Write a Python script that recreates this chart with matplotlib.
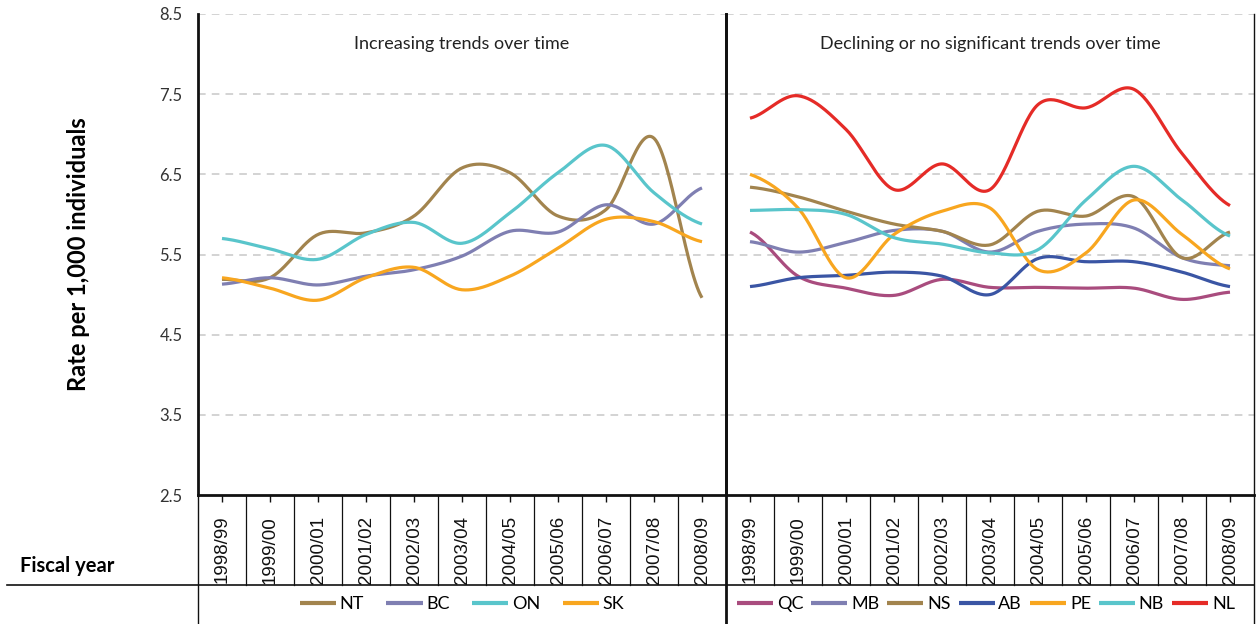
import numpy as np
import matplotlib
matplotlib.use("Agg")
import matplotlib.pyplot as plt
from matplotlib.lines import Line2D

years = ["1998/99", "1999/00", "2000/01", "2001/02", "2002/03", "2003/04",
         "2004/05", "2005/06", "2006/07", "2007/08", "2008/09"]

# Increasing trends
NT = [5.19, 5.21, 5.75, 5.77, 5.98, 6.58, 6.52, 5.98, 6.06, 6.95, 4.96]
BC = [5.13, 5.21, 5.12, 5.23, 5.31, 5.48, 5.79, 5.78, 6.12, 5.88, 6.33]
ON = [5.70, 5.57, 5.44, 5.75, 5.90, 5.64, 6.02, 6.52, 6.86, 6.27, 5.88]
SK = [5.21, 5.08, 4.93, 5.21, 5.34, 5.06, 5.23, 5.58, 5.94, 5.91, 5.66]

# Declining or no significant trends
QC = [5.78, 5.23, 5.08, 4.99, 5.19, 5.09, 5.09, 5.08, 5.08, 4.94, 5.03]
MB = [5.66, 5.53, 5.65, 5.80, 5.79, 5.53, 5.79, 5.88, 5.83, 5.46, 5.36]
NS = [6.34, 6.22, 6.04, 5.88, 5.79, 5.62, 6.04, 5.98, 6.22, 5.46, 5.78]
AB = [5.10, 5.21, 5.24, 5.28, 5.23, 5.00, 5.45, 5.41, 5.41, 5.28, 5.10]
PE = [6.50, 6.08, 5.21, 5.75, 6.04, 6.08, 5.31, 5.52, 6.18, 5.75, 5.32]
NB = [6.05, 6.06, 6.00, 5.71, 5.63, 5.52, 5.56, 6.18, 6.60, 6.18, 5.73]
NL = [7.20, 7.48, 7.06, 6.31, 6.63, 6.31, 7.37, 7.33, 7.56, 6.76, 6.11]

yticks = [2.5, 3.5, 4.5, 5.5, 6.5, 7.5, 8.5]

BROWN = "#A2844E"
PURPLE = "#7F7FB2"
CYAN = "#59C5CB"
ORANGE = "#F8A61F"
MAGENTA = "#A94C7E"
BLUE = "#3A55A4"
RED = "#E52B27"

left_series = [("NT", NT, BROWN), ("BC", BC, PURPLE), ("ON", ON, CYAN), ("SK", SK, ORANGE)]
right_series = [("QC", QC, MAGENTA), ("MB", MB, PURPLE), ("NS", NS, BROWN), ("AB", AB, BLUE),
                ("PE", PE, ORANGE), ("NB", NB, CYAN), ("NL", NL, RED)]

FONT = ["Lato", "DejaVu Sans"]
plt.rcParams["font.family"] = FONT

W, H = 1257, 624
fig = plt.figure(figsize=(W / 100, H / 100), dpi=100)


def fx(x):
    return x / W


def fy(y):
    return 1 - y / H


def smooth(vals, n=30):
    y = np.asarray(vals, dtype=float)
    m = len(y)
    xs, ys = [], []
    for i in range(m - 1):
        p0 = y[i - 1] if i > 0 else y[i]
        p1, p2 = y[i], y[i + 1]
        p3 = y[i + 2] if i + 2 < m else y[i + 1]
        t = np.linspace(0, 1, n, endpoint=(i == m - 2))
        yy = 0.5 * ((2 * p1) + (-p0 + p2) * t + (2 * p0 - 5 * p1 + 4 * p2 - p3) * t ** 2
                    + (-p0 + 3 * p1 - 3 * p2 + p3) * t ** 3)
        xs.append(i + t)
        ys.append(yy)
    return np.concatenate(xs), np.concatenate(ys)


top, bottom = 14, 495
lefts = [198, 726]
pw = 528

axes = []
for k, (series, title) in enumerate([(left_series, "Increasing trends over time"),
                                     (right_series, "Declining or no significant trends over time")]):
    ax = fig.add_axes([fx(lefts[k]), fy(bottom), pw / W, (bottom - top) / H])
    ax.set_xlim(-0.5, len(years) - 0.5)
    ax.set_ylim(2.5, 8.5)
    for v in yticks[1:]:
        ax.axhline(v, color="#C8C8C8", lw=1.1, ls=(0, (5, 4)), zorder=0)
    for name, vals, col in series:
        xs, ys = smooth(vals)
        ax.plot(xs, ys, color=col, lw=2.3, label=name, solid_capstyle="butt", zorder=3)
    ax.text(0.5, 0.938, title, transform=ax.transAxes, ha="center", va="center", fontsize=13,
            color="#222222")
    for s in ["top", "right"]:
        ax.spines[s].set_visible(False)
    ax.spines["left"].set_linewidth(2.0)
    ax.spines["bottom"].set_linewidth(2.0)
    ax.spines["left"].set_color("#111111")
    ax.spines["bottom"].set_color("#111111")
    ax.set_xticks(range(len(years)))
    ax.set_xticklabels(years, rotation=90, fontsize=13.5, color="#111111",
                       family=["Liberation Sans", "DejaVu Sans"])
    ax.tick_params(axis="x", direction="out", length=5, width=1, pad=10, color="#111111")
    if k == 0:
        ax.set_yticks(yticks)
        ax.set_yticklabels([f"{v:.1f}" for v in yticks], fontsize=12, color="#333333")
        ax.tick_params(axis="y", length=0, pad=11)
        ax.set_ylabel("Rate per 1,000 individuals", fontsize=17, fontweight="bold", labelpad=50)
    else:
        ax.set_yticks([])
    axes.append(ax)

# Table lines
def vline(x, y0, y1, lw=1.0):
    fig.add_artist(Line2D([fx(x), fx(x)], [fy(y0), fy(y1)], color="#111111", lw=lw))


def hline(y, x0, x1, lw=1.0):
    fig.add_artist(Line2D([fx(x0), fx(x1)], [fy(y), fy(y)], color="#111111", lw=lw))


for k in range(2):
    for j in range(1, len(years)):
        vline(lefts[k] + j * pw / len(years), bottom, 585, lw=0.9)
vline(198, bottom, 624, lw=1.0)
vline(726, top, 624, lw=2.0)
vline(1254, top, 624, lw=1.0)
hline(585, 7, 1254, lw=1.2)

fig.text(fx(20), fy(566), "Fiscal year", fontsize=14.5, fontweight="bold", ha="left", va="center")

# Legends
leg_kw = dict(frameon=False, handlelength=2.0, handletextpad=0.2, fontsize=13,
              borderaxespad=0, borderpad=0)
l1 = axes[0].legend(ncol=4, loc="center", bbox_to_anchor=(fx(462), fy(604)),
                    bbox_transform=fig.transFigure, columnspacing=1.25, **leg_kw)
l2 = axes[1].legend(ncol=7, loc="center", bbox_to_anchor=(fx(986), fy(604)),
                    bbox_transform=fig.transFigure, columnspacing=0.45, **leg_kw)
for lg in (l1, l2):
    for h in lg.legend_handles:
        h.set_linewidth(3)

fig.savefig("out.png", dpi=100)
